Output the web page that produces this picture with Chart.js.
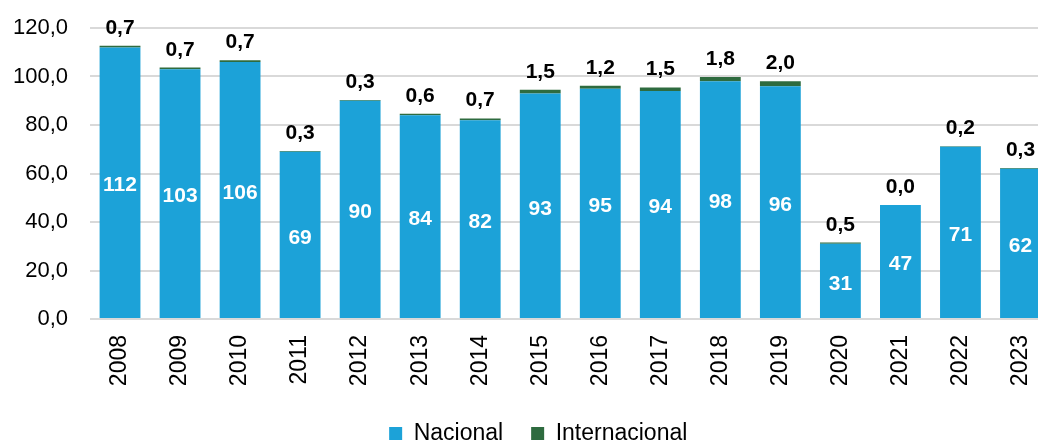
<!DOCTYPE html>
<html>
<head>
<meta charset="utf-8">
<script src="https://cdn.jsdelivr.net/npm/chart.js@4"></script>
<style>
  html, body { margin: 0; padding: 0; overflow: hidden; background: #fff; }
  #wrap { width: 1060px; height: 455px; position: relative; }
</style>
</head>
<body>
<div id="wrap"><canvas id="chart"></canvas></div>
<script>
(() => {
  'use strict'

  const years = ['2008', '2009', '2010', '2011', '2012', '2013', '2014', '2015',
    '2016', '2017', '2018', '2019', '2020', '2021', '2022', '2023']
  const nacional = [112, 103, 106, 69, 90, 84, 82, 93, 95, 94, 98, 96, 31, 47, 71, 62]
  const internacional = [0.7, 0.7, 0.7, 0.3, 0.3, 0.6, 0.7, 1.5, 1.2, 1.5, 1.8, 2.0, 0.5, 0.0, 0.2, 0.3]
  const yTicks = [0, 20, 40, 60, 80, 100, 120]

  const FONT = "'Liberation Sans', Arial, sans-serif"
  const comma = (v, d) => v.toFixed(d).replace('.', ',')

  // value labels: white inside the blue bars, black above the stack
  const valueLabels = {
    id: 'valueLabels',
    afterDatasetsDraw (chart) {
      const { ctx } = chart
      ctx.save()
      ctx.font = `bold 21px ${FONT}`
      ctx.textAlign = 'center'

      chart.getDatasetMeta(0).data.forEach((bar, i) => {
        ctx.fillStyle = '#ffffff'
        ctx.textBaseline = 'middle'
        ctx.fillText(String(Math.round(nacional[i])), bar.x, (bar.y + bar.base) / 2 + 3)
      })

      chart.getDatasetMeta(1).data.forEach((bar, i) => {
        ctx.fillStyle = '#000000'
        ctx.textBaseline = 'alphabetic'
        ctx.fillText(comma(internacional[i], 1), bar.x, bar.y - 12)
      })
      ctx.restore()
    }
  }

  // nudge the legend a little to the right, like the original layout
  const legendShift = {
    id: 'legendShift',
    afterLayout (chart) {
      chart.legend.left += 7
      chart.legend.right += 7
    }
  }

  // eslint-disable-next-line no-unused-vars
  const chart = new Chart(document.getElementById('chart'), {
    type: 'bar',
    data: {
      labels: years,
      datasets: [
        {
          label: 'Nacional',
          data: nacional,
          backgroundColor: '#1ca2d8',
          categoryPercentage: 1,
          barPercentage: 0.68
        },
        {
          label: 'Internacional',
          data: internacional,
          backgroundColor: '#2e6b3f',
          categoryPercentage: 1,
          barPercentage: 0.68
        }
      ]
    },
    options: {
      responsive: true,
      maintainAspectRatio: false,
      animation: false,
      layout: {
        padding: { top: 28, left: 12, right: 9.5, bottom: 0 }
      },
      plugins: {
        tooltip: { enabled: false },
        legend: {
          position: 'bottom',
          labels: {
            boxWidth: 13,
            boxHeight: 13,
            padding: 28,
            color: '#000',
            font: { family: FONT, size: 23 }
          }
        }
      },
      scales: {
        x: {
          stacked: true,
          afterFit: axis => {
            axis.height = 75
            axis.paddingLeft = 0
            axis.paddingRight = 0
          },
          grid: { display: false, drawTicks: false },
          border: { display: false },
          ticks: {
            minRotation: 90,
            maxRotation: 90,
            padding: 16,
            color: '#000',
            font: { family: FONT, size: 23 }
          }
        },
        y: {
          stacked: true,
          min: yTicks[0],
          max: yTicks[yTicks.length - 1],
          afterFit: axis => {
            axis.width = 78
            axis.paddingTop = 0
            axis.paddingBottom = 0
          },
          afterBuildTicks: axis => { axis.ticks = yTicks.map(v => ({ value: v })) },
          grid: { color: '#d9d9d9', lineWidth: 2, drawTicks: false },
          border: { display: false },
          ticks: {
            padding: 22,
            color: '#000',
            font: { family: FONT, size: 22 },
            callback: value => comma(value, 1)
          }
        }
      }
    },
    plugins: [valueLabels, legendShift]
  })
})()
</script>
</body>
</html>
